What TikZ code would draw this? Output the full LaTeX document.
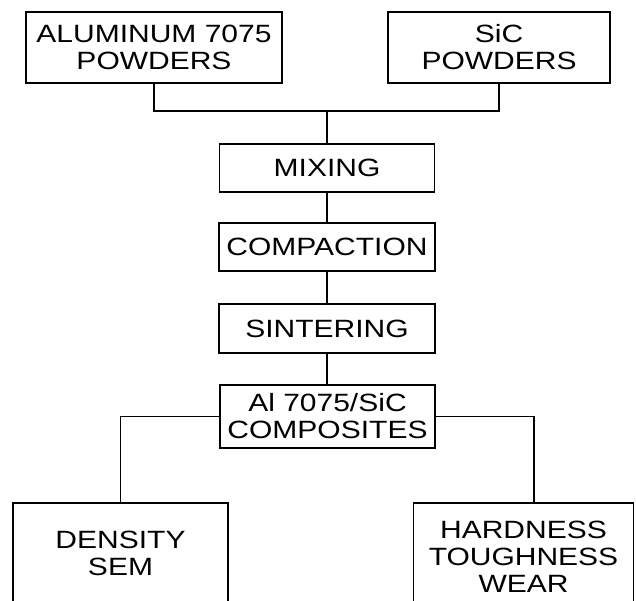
\documentclass[tikz,border=0pt]{standalone}
\usepackage{fontspec}
\setmainfont{Liberation Sans}[FakeStretch=1.2]
\begin{document}
\begin{tikzpicture}[x=1pt,y=-1pt,
  box/.style={draw, line width=1.7pt, rectangle, align=center, inner sep=1pt,
    font=\fontsize{25}{27}\selectfont},
  link/.style={line width=1.8pt},
  thinlink/.style={line width=1.3pt}]
\useasboundingbox (0,0) rectangle (636,600);
\clip (0,0) rectangle (636,600);
\fill[white] (0,0) rectangle (636,600);
\node[box, minimum width=256, minimum height=71] (alu) at (154,47.5) {ALUMINUM 7075\\POWDERS};
\node[box, minimum width=222, minimum height=71] (sic) at (499,47.5) {SiC\\POWDERS};
\node[box, minimum width=215, minimum height=48] (mix) at (327,168) {MIXING};
\node[box, minimum width=216, minimum height=48] (comp) at (327,247) {COMPACTION};
\node[box, minimum width=216, minimum height=49] (sint) at (327,328.5) {SINTERING};
\node[box, minimum width=215, minimum height=63] (compo) at (327.5,416.5) {Al 7075/SiC\\COMPOSITES};
\node[box, minimum width=215, minimum height=100] (dens) at (120.5,553) {DENSITY\\SEM};
\node[box, minimum width=220, minimum height=107] (hard) at (523.5,556.5) {HARDNESS\\TOUGHNESS\\WEAR};
\coordinate (j) at (327,111);
\coordinate (hj) at (534,503);
\draw[link] (alu.south) |- (j) -| (sic.south);
\draw[link] (j) -- (mix.north);
\draw[link] (mix) -- (comp);
\draw[link] (comp) -- (sint);
\draw[link] (sint) -- (sint |- compo.north);
\draw[thinlink] (compo.west) -| (dens.north);
\draw[thinlink] (compo.east) -| (hj);
\end{tikzpicture}
\end{document}
